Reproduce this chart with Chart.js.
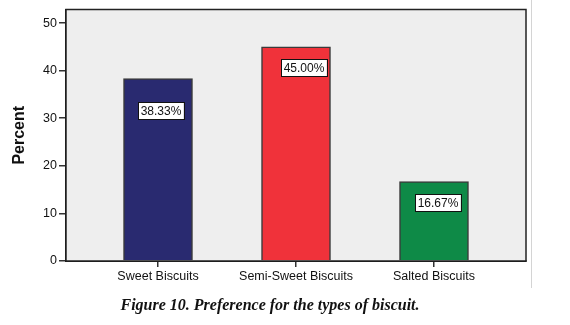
<!doctype html>
<html lang="en">
<head>
  <meta charset="utf-8">
  <title>Preference for the types of biscuit</title>
  <script src="https://cdn.jsdelivr.net/npm/chart.js"></script>
  <style>
    html, body { margin: 0; padding: 0; background: #fff; }
    #wrap { position: relative; width: 570px; height: 325px; }
    #edge { position: absolute; left: 531px; top: 0; width: 1px; height: 288px; background: #d4d4d4; }
    #caption { position: absolute; left: 0; width: 540px; top: 296px; text-align: center;
      font: italic bold 16px "Liberation Serif", "DejaVu Serif", serif; color: #111; }
  </style>
</head>
<body>
  <div id="wrap">
    <canvas id="chart" width="570" height="325"></canvas>
    <div id="edge"></div>
    <div id="caption">Figure 10. Preference for the types of biscuit.</div>
  </div>
  <script>
    const categories = ['Sweet Biscuits', 'Semi-Sweet Biscuits', 'Salted Biscuits'];
    const percents = [38.33, 45.00, 16.67];
    const yTicks = [0, 10, 20, 30, 40, 50];
    const barColors = ['#292a70', '#f0323a', '#0e8a47'];

    // label box placement (px below bar top, px shift right)
    const labelDy = [32, 21, 21];
    const labelDx = [3, 8, 4];

    const frame = {
      id: 'frame',
      beforeDatasetsDraw(chart) {
        const { ctx, chartArea: a } = chart;
        ctx.save();
        ctx.fillStyle = '#eeeeee';
        ctx.fillRect(a.left, a.top, a.right - a.left, a.bottom - a.top);
        ctx.restore();
      },
      afterDatasetsDraw(chart) {
        const { ctx, chartArea: a } = chart;
        ctx.save();
        ctx.strokeStyle = '#222';
        ctx.lineWidth = 1.5;
        ctx.strokeRect(a.left, a.top, a.right - a.left, a.bottom - a.top);
        // value boxes
        ctx.font = '12px Arial, "Liberation Sans", sans-serif';
        ctx.textAlign = 'center';
        ctx.textBaseline = 'middle';
        chart.getDatasetMeta(0).data.forEach((bar, i) => {
          const txt = percents[i].toFixed(2) + '%';
          const w = ctx.measureText(txt).width + 5;
          const h = 17;
          const cx = bar.x + labelDx[i];
          const cy = bar.y + labelDy[i];
          ctx.fillStyle = '#fff';
          ctx.fillRect(cx - w / 2, cy - h / 2, w, h);
          ctx.strokeStyle = '#111';
          ctx.lineWidth = 1;
          ctx.strokeRect(Math.round(cx - w / 2) + 0.5, Math.round(cy - h / 2) + 0.5, Math.round(w), h);
          ctx.fillStyle = '#111';
          ctx.fillText(txt, cx, cy + 1);
        });
        ctx.restore();
      }
    };

    new Chart(document.getElementById('chart'), {
      type: 'bar',
      data: {
        datasets: [{
          data: percents.map((v, i) => ({ x: i, y: v })),
          backgroundColor: barColors,
          borderColor: '#3a3a3a',
          borderWidth: 1.5,
          barThickness: 69
        }]
      },
      options: {
        responsive: false,
        animation: false,
        layout: { padding: { top: 8, right: 44, left: 0, bottom: 0 } },
        plugins: { legend: { display: false }, tooltip: { enabled: false } },
        scales: {
          x: {
            type: 'linear',
            offset: false,
            min: -0.6667,
            max: 2.6667,
            afterBuildTicks: s => { s.ticks = categories.map((c, i) => ({ value: i })); },
            afterFit: s => { s.height = 64; },
            ticks: {
              callback: v => categories[v],
              color: '#111',
              font: { family: 'Arial, "Liberation Sans", sans-serif', size: 12.5 },
              padding: 2,
              maxRotation: 0,
              autoSkip: false
            },
            grid: { offset: false, drawOnChartArea: false, tickLength: 6, color: '#333', lineWidth: 1.5 },
            border: { color: '#111', width: 2 }
          },
          y: {
            min: 0,
            max: 52.85,
            afterBuildTicks: s => { s.ticks = yTicks.map(v => ({ value: v })); },
            afterFit: s => { s.width = 66; },
            ticks: {
              color: '#111',
              font: { family: 'Arial, "Liberation Sans", sans-serif', size: 12.5 },
              padding: 2
            },
            grid: { drawOnChartArea: false, tickLength: 7, color: '#333', lineWidth: 1.5 },
            border: { color: '#111', width: 2 },
            title: {
              display: true,
              text: 'Percent',
              color: '#111',
              font: { family: 'Arial, "Liberation Sans", sans-serif', size: 16, weight: 'bold' },
              padding: { top: 10, bottom: 0 }
            }
          }
        }
      },
      plugins: [frame]
    });
  </script>
</body>
</html>
